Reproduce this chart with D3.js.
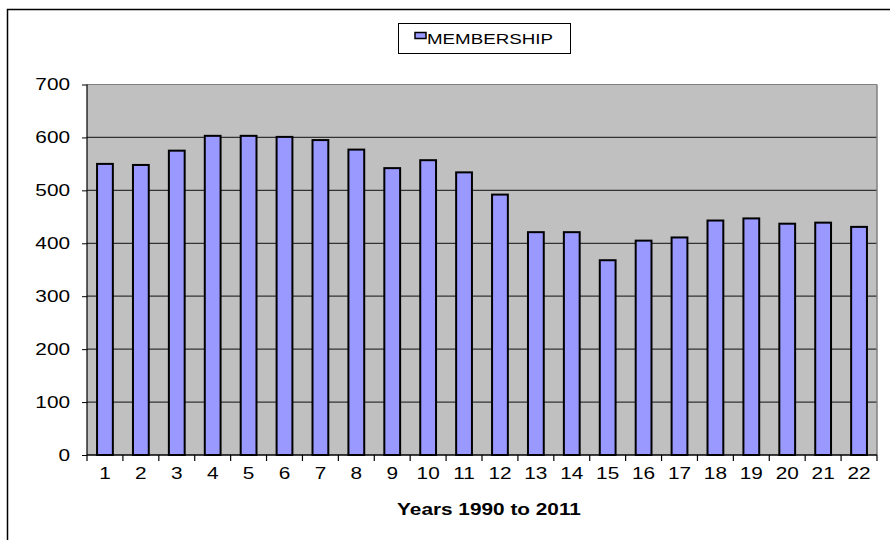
<!DOCTYPE html>
<html><head><meta charset="utf-8">
<script src="https://cdn.jsdelivr.net/npm/d3@7"></script>
<style>body{margin:0;background:#fff}svg{display:block}text{font-family:"Liberation Sans",Arial,sans-serif}</style>
</head><body>
<svg id="c" width="890" height="540"></svg>
<script>
const categories = ["1","2","3","4","5","6","7","8","9","10","11","12","13","14","15","16","17","18","19","20","21","22"];
const membership = [550,548,575,603,603,601,595,577,542,557,534,492,421,421,368,405,411,443,447,437,439,431];
const yTicks = [0,100,200,300,400,500,600,700];
const seriesName = "MEMBERSHIP";
const xTitle = "Years 1990 to 2011";

const svg = d3.select("#c");
const L = 87, R = 877, T = 84.5, B = 455;
const SX = 1.3; // horizontal stretch of the reference's text

// outer frame
svg.append("path").attr("d", "M7.5,540 V9.5 H890").attr("fill","none").attr("stroke","#000").attr("stroke-width",1.5);

const x = d3.scaleBand().domain(categories).range([L, R]).paddingInner(0.56).paddingOuter(0.28);
const xb = d3.scaleBand().domain(categories).range([L, R]);
const y = d3.scaleLinear().domain([0, 700]).range([B, T]);

svg.append("rect").attr("x", L).attr("y", T).attr("width", R - L).attr("height", B - T).attr("fill", "#c0c0c0");

svg.append("g").selectAll("line").data(yTicks.filter(d => d > 0)).join("line")
  .attr("x1", L).attr("x2", R).attr("y1", d => y(d)).attr("y2", d => y(d))
  .attr("stroke", d => d === 700 ? "#808080" : "#333").attr("stroke-width", 1.2);
svg.append("line").attr("x1", R).attr("x2", R).attr("y1", T).attr("y2", B).attr("stroke", "#808080").attr("stroke-width", 1.5);

svg.append("g").selectAll("rect").data(membership).join("rect")
  .attr("x", (d, i) => x(categories[i])).attr("width", x.bandwidth())
  .attr("y", d => y(d)).attr("height", d => B - y(d))
  .attr("fill", "#9999ff").attr("stroke", "#000").attr("stroke-width", 2);

function stretch(sel) {
  sel.each(function() {
    const t = d3.select(this);
    const xv = +t.attr("x") || 0;
    t.attr("x", xv / SX).attr("transform", `scale(${SX},1)`);
  });
}

// y axis
const ya = svg.append("g").attr("transform", `translate(${L},0)`)
  .call(d3.axisLeft(y).tickValues(yTicks).tickSize(5).tickPadding(12));
ya.select(".domain").attr("stroke", "#000").attr("stroke-width", 1.2).attr("d", `M-0,${T}V${B}`);
ya.selectAll("line").attr("stroke", "#000");
ya.selectAll("text").attr("font-size", 16).attr("fill", "#000").attr("font-family", "Liberation Sans, Arial, sans-serif").call(stretch);

// x axis
const xa = svg.append("g").attr("transform", `translate(0,${B})`)
  .call(d3.axisBottom(xb).tickSize(0).tickPadding(13));
xa.select(".domain").attr("stroke", "#000").attr("stroke-width", 1.5).attr("d", `M${L},0H${R}`);
xa.selectAll("text").attr("font-size", 16).attr("fill", "#000").attr("font-family", "Liberation Sans, Arial, sans-serif").call(stretch);
const bounds = categories.map(c => xb(c)).concat([R]);
svg.append("g").selectAll("line").data(bounds).join("line")
  .attr("x1", d => d).attr("x2", d => d).attr("y1", B).attr("y2", B + 6).attr("stroke", "#000").attr("stroke-width", 1.2);

svg.append("text").attr("transform", `translate(489,515) scale(${SX},1)`).attr("text-anchor", "middle")
  .attr("font-size", 16).attr("font-weight", "bold").attr("fill", "#000").text(xTitle);

// legend
svg.append("rect").attr("x", 398.5).attr("y", 23.5).attr("width", 172).attr("height", 30).attr("fill", "#fff").attr("stroke", "#000");
svg.append("rect").attr("x", 415).attr("y", 32.5).attr("width", 11).attr("height", 6).attr("fill", "#9999ff").attr("stroke", "#000").attr("stroke-width", 1.5);
svg.append("text").attr("transform", `translate(427,44) scale(1.25,1)`).attr("font-size", 15).attr("fill", "#000").text(seriesName);
</script>
</body></html>
